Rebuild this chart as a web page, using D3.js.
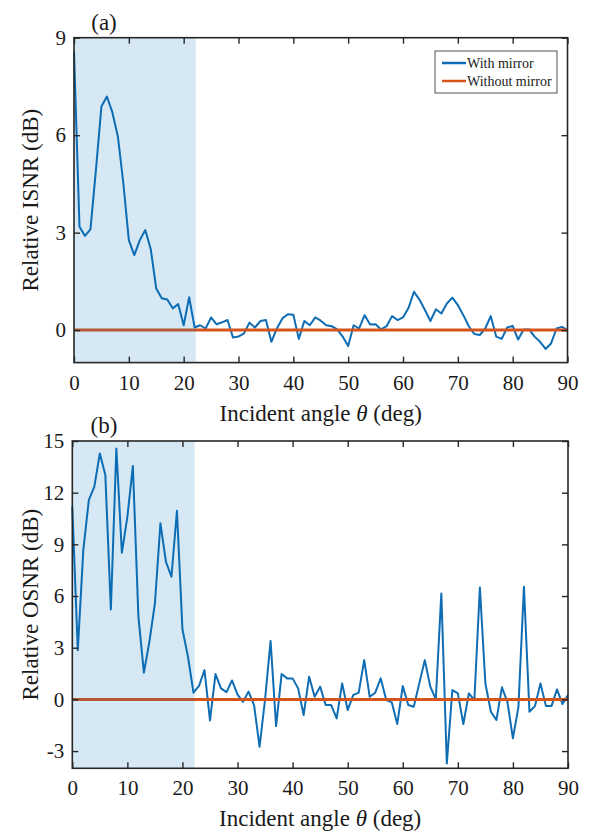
<!DOCTYPE html>
<html lang="en">
<head>
<meta charset="UTF-8">
<title>Relative ISNR / OSNR vs incident angle</title>
<script src="https://d3js.org/d3.v7.min.js"></script>
<style>
  body { margin: 0; background: #fff; }
  svg { display: block; }
  text { font-family: "Liberation Serif", "Times New Roman", serif; fill: #1a1a1a; }
  .axis path, .axis line { stroke: #262626; }
</style>
</head>
<body>
<svg id="chart" width="589" height="835"></svg>
<script>
// incident angle (deg), one sample per degree
const angles = [0,1,2,3,4,5,6,7,8,9,10,11,12,13,14,15,16,17,18,19,20,21,22,23,24,25,26,27,28,29,
  30,31,32,33,34,35,36,37,38,39,40,41,42,43,44,45,46,47,48,49,50,51,52,53,54,55,56,57,58,59,
  60,61,62,63,64,65,66,67,68,69,70,71,72,73,74,75,76,77,78,79,80,81,82,83,84,85,86,87,88,89,90];

// (a) relative ISNR with mirror (dB)
const isnrWithMirror = [8.58,3.18,2.90,3.10,4.93,6.88,7.19,6.70,5.96,4.52,2.77,2.31,2.77,3.08,2.49,1.28,0.98,0.94,0.67,0.80,
  0.15,1.01,0.08,0.15,0.05,0.39,0.18,0.24,0.31,-0.23,-0.20,-0.10,0.23,0.08,0.28,0.31,-0.36,0.05,0.36,0.49,
  0.47,-0.27,0.28,0.15,0.39,0.29,0.15,0.12,0.02,-0.20,-0.49,0.15,0.05,0.46,0.17,0.18,0.02,0.12,0.43,0.31,
  0.39,0.68,1.18,0.94,0.62,0.28,0.64,0.51,0.82,1.00,0.77,0.46,0.12,-0.12,-0.15,0.05,0.43,-0.20,-0.27,0.08,
  0.13,-0.29,0.02,0.02,-0.20,-0.36,-0.58,-0.41,0.05,0.10,0.00];

// (b) relative OSNR with mirror (dB)
const osnrWithMirror = [11.18,2.86,8.67,11.57,12.35,14.28,13.02,5.22,14.57,8.51,10.60,13.55,4.80,1.55,3.35,5.57,10.22,7.99,7.12,10.95,
  4.06,2.48,0.39,0.78,1.70,-1.22,1.47,0.64,0.42,1.10,0.28,-0.14,0.45,-0.33,-2.75,0.00,3.39,-1.55,1.47,1.22,
  1.22,0.64,-0.91,1.32,0.15,0.74,-0.33,-0.33,-1.10,0.93,-0.62,0.25,0.39,2.28,0.15,0.39,1.22,-0.04,-0.17,-1.43,
  0.77,-0.33,-0.43,0.93,2.28,0.74,0.00,6.15,-3.72,0.54,0.35,-1.43,0.35,-0.04,6.50,0.93,-0.72,-1.20,0.70,-0.14,
  -2.26,-0.43,6.54,-0.72,-0.39,0.93,-0.39,-0.39,0.58,-0.27,0.25];

// reference: without mirror (0 dB everywhere)
const withoutAngles = [0, 90];
const withoutMirror = [0, 0];

const xTicks = [0,10,20,30,40,50,60,70,80,90];
const isnrTicks = [0,3,6,9];
const osnrTicks = [-3,0,3,6,9,12,15];
const shadeRange = [0, 22.2];
const seriesNames = ["With mirror", "Without mirror"];

const blue = "#0f6db4", orange = "#d4541c";
const svg = d3.select("#chart");

function drawPanel(cfg) {
  const x = d3.scaleLinear().domain([0, 90]).range([cfg.left, cfg.right]);
  const y = d3.scaleLinear().domain(cfg.yDomain).range([cfg.bottom, cfg.top]);
  const g = svg.append("g");

  const line = d3.line().x(d => x(d[0])).y(d => y(d[1]));
  const withPts = angles.map((a, i) => [a, cfg.values[i]]);
  const withoutPts = withoutAngles.map((a, i) => [a, withoutMirror[i]]);

  g.append("path").datum(withPts).attr("d", line)
    .attr("fill", "none").attr("stroke", blue).attr("stroke-width", 2).attr("stroke-linejoin", "round");
  g.append("path").datum(withoutPts).attr("d", line)
    .attr("fill", "none").attr("stroke", orange).attr("stroke-width", 3);

  // translucent shaded band drawn over the curves
  g.append("rect")
    .attr("x", x(shadeRange[0])).attr("width", x(shadeRange[1]) - x(shadeRange[0]))
    .attr("y", cfg.top).attr("height", cfg.bottom - cfg.top)
    .attr("fill", "#0072bd").attr("fill-opacity", 0.16);

  // axes with inward ticks, box on
  const tk = 6;
  g.append("g").attr("class", "axis").attr("transform", `translate(0,${cfg.bottom})`)
    .call(d3.axisBottom(x).tickValues(xTicks).tickSizeInner(-tk).tickSizeOuter(0).tickPadding(12))
    .call(a => a.selectAll("text").attr("font-size", 21));
  g.append("g").attr("class", "axis").attr("transform", `translate(0,${cfg.top})`)
    .call(d3.axisTop(x).tickValues(xTicks).tickSizeInner(-tk).tickSizeOuter(0).tickFormat(""));
  g.append("g").attr("class", "axis").attr("transform", `translate(${cfg.left},0)`)
    .call(d3.axisLeft(y).tickValues(cfg.yTicks).tickSizeInner(-tk).tickSizeOuter(0).tickPadding(8).tickFormat(d => String(d)))
    .call(a => a.selectAll("text").attr("font-size", 21));
  g.append("g").attr("class", "axis").attr("transform", `translate(${cfg.right},0)`)
    .call(d3.axisRight(y).tickValues(cfg.yTicks).tickSizeInner(-tk).tickSizeOuter(0).tickFormat(""));
  g.selectAll(".axis line").attr("stroke-width", 1.4);
  g.selectAll(".axis .domain").remove();
  g.append("rect").attr("x", cfg.left).attr("y", cfg.top)
    .attr("width", cfg.right - cfg.left).attr("height", cfg.bottom - cfg.top)
    .attr("fill", "none").attr("stroke", "#262626").attr("stroke-width", 1.6);

  // x label
  const xl = g.append("text").attr("x", (cfg.left + cfg.right) / 2).attr("y", cfg.bottom + 58)
    .attr("text-anchor", "middle").attr("font-size", 23);
  xl.append("tspan").text("Incident angle ");
  xl.append("tspan").attr("font-style", "italic").text("\u03b8");
  xl.append("tspan").text(" (deg)");

  // y label
  g.append("text")
    .attr("transform", `translate(38,${(cfg.top + cfg.bottom) / 2}) rotate(-90)`)
    .attr("text-anchor", "middle").attr("font-size", 23).text(cfg.yLabel);

  // panel tag
  g.append("text").attr("x", 104).attr("y", cfg.top - 8)
    .attr("text-anchor", "middle").attr("font-size", 23).text(cfg.tag);

  if (cfg.legend) {
    const lx = 435, ly = 51, lw = 122, lh = 42;
    const lg = g.append("g");
    lg.append("rect").attr("x", lx).attr("y", ly).attr("width", lw).attr("height", lh)
      .attr("fill", "#fff").attr("stroke", "#262626").attr("stroke-width", 0.8);
    [blue, orange].forEach((c, i) => {
      const cy = ly + 12 + i * 18;
      lg.append("line").attr("x1", lx + 7).attr("x2", lx + 31).attr("y1", cy).attr("y2", cy)
        .attr("stroke", c).attr("stroke-width", 2.5);
      lg.append("text").attr("x", lx + 32).attr("y", cy + 5).attr("font-size", 14).text(seriesNames[i]);
    });
  }
}

drawPanel({ left: 74, right: 567.5, top: 37.7, bottom: 362.6, yDomain: [-1, 9], yTicks: isnrTicks,
  values: isnrWithMirror, yLabel: "Relative ISNR (dB)", tag: "(a)", legend: true });
drawPanel({ left: 72.3, right: 568, top: 441, bottom: 768.3, yDomain: [-4, 15], yTicks: osnrTicks,
  values: osnrWithMirror, yLabel: "Relative OSNR (dB)", tag: "(b)", legend: false });
</script>
</body>
</html>
